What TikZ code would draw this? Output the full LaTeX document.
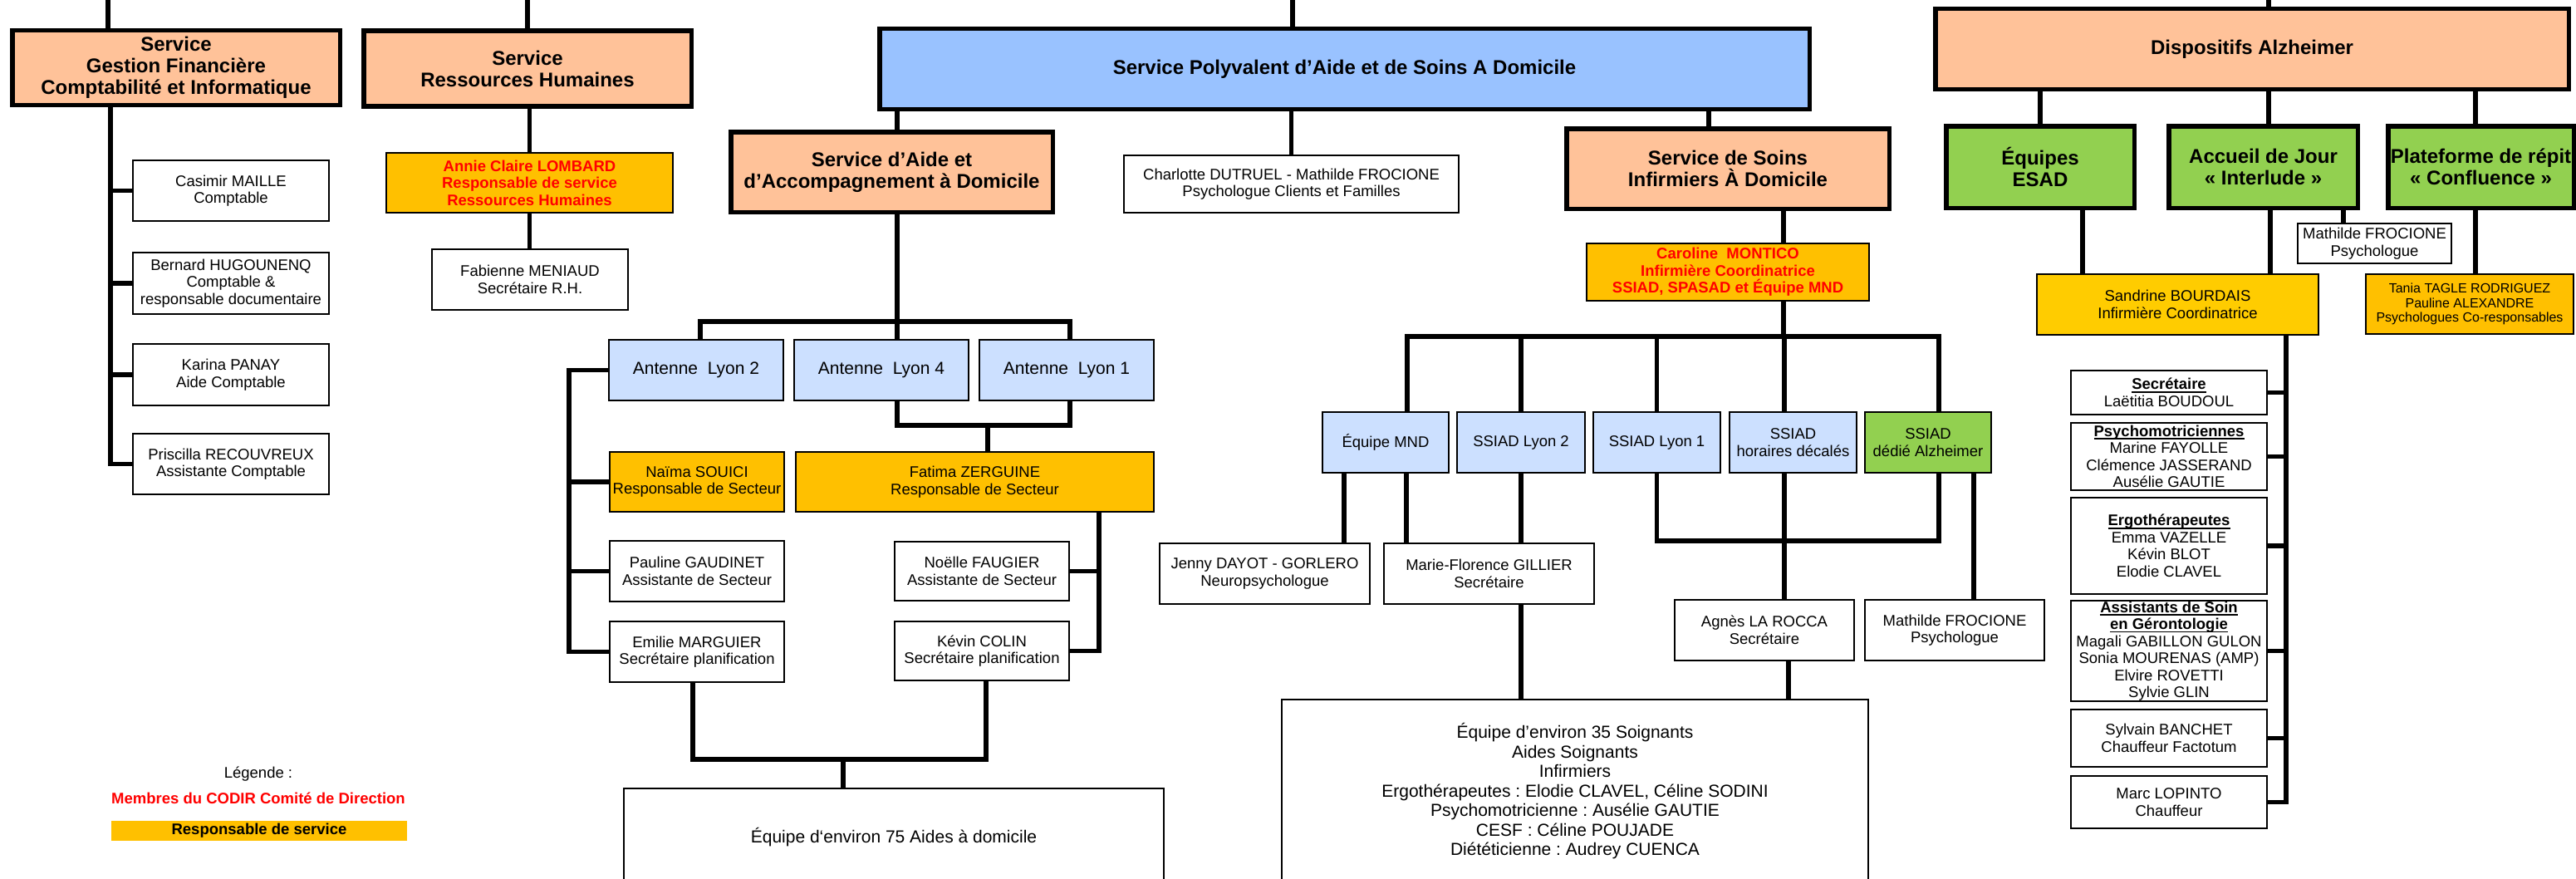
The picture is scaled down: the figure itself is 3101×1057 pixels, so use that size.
\documentclass[tikz,border=0pt]{standalone}
\usepackage{fontspec}
\setmainfont{Liberation Sans}
\usetikzlibrary{calc}
\definecolor{peach}{RGB}{255,194,153}
\definecolor{spblue}{RGB}{153,194,255}
\definecolor{lblue}{RGB}{204,224,255}
\definecolor{gold}{RGB}{255,192,0}
\definecolor{sunny}{RGB}{255,204,0}
\definecolor{lgreen}{RGB}{146,208,80}
\definecolor{codir}{RGB}{255,0,0}
\newcommand\hdul[1]{\setbox0\hbox{\textbf{#1}}\rlap{\vrule height -2pt depth 3.6pt width \wd0}\box0}
\begin{document}
\frenchspacing
\begin{tikzpicture}[x=1pt,y=-1pt,
  hbox/.style={draw, line width=5.5pt, align=center, inner sep=0pt, font=\fontsize{24}{26}\selectfont\bfseries},
  pbox/.style={draw, line width=2.2pt, align=center, inner sep=0pt, font=\fontsize{18.5}{20.5}\selectfont},
  bigtext/.style={font=\fontsize{21}{23.5}\selectfont},
  redtext/.style={text=codir, font=\fontsize{18.5}{20.5}\selectfont\bfseries},
  sz/.style 2 args={minimum width=#1pt, minimum height=#2pt},
  wire/.style={line width=5.5pt},
]
\useasboundingbox (0,0) rectangle (3101,1057);
\clip (0,0) rectangle (3101,1057);

% ---------- header boxes ----------
\node[hbox, fill=peach, sz={394.5}{89.5}] (gest) at (212,81.5) {Service\\Gestion Financière\\Comptabilité et Informatique};
\node[hbox, fill=peach, sz={394.5}{90.5}] (rh) at (635,82.5) {Service\\Ressources Humaines};
\node[hbox, fill=spblue, sz={1119.5}{96.5}] (spasad) at (1618.5,83) {Service Polyvalent d’Aide et de Soins A Domicile};
\node[hbox, fill=peach, sz={387.5}{96.5}] (saad) at (1073.5,207) {Service d’Aide et\\d’Accompagnement à Domicile};
\node[hbox, fill=peach, sz={388.5}{96.5}] (ssiad) at (2080,203) {Service de Soins\\Infirmiers À Domicile};
\node[hbox, fill=peach, sz={762.5}{96.5}] (dispo) at (2711,59) {Dispositifs Alzheimer};
\node[hbox, fill=lgreen, sz={226.5}{98.5}] (esad) at (2456,201) {Équipes\\ESAD};
\node[hbox, fill=lgreen, sz={227.5}{98.5}] (accueil) at (2724.5,201) {Accueil de Jour\\«~Interlude~»};
\node[hbox, fill=lgreen, sz={223.5}{98.5}] (plat) at (2986.5,201) {Plateforme de répit\\«~Confluence~»};

% ---------- Gestion / RH ----------
\node[pbox, sz={235.8}{72.8}] (casimir) at (278,229.5) {Casimir MAILLE\\Comptable};
\node[pbox, sz={235.8}{73.8}] (bernard) at (278,341) {Bernard HUGOUNENQ\\Comptable \&\\responsable documentaire};
\node[pbox, sz={235.8}{73.8}] (karina) at (278,451) {Karina PANAY\\Aide Comptable};
\node[pbox, sz={235.8}{72.8}] (priscilla) at (278,558.5) {Priscilla RECOUVREUX\\Assistante Comptable};
\node[pbox, fill=gold, redtext, sz={344.8}{71.8}] (annie) at (637.5,220) {Annie Claire LOMBARD\\Responsable de service\\Ressources Humaines};
\node[pbox, sz={235.8}{72.8}] (fabienne) at (638,336.5) {Fabienne MENIAUD\\Secrétaire R.H.};

% ---------- SPASAD / SAAD ----------
\node[pbox, sz={402.8}{68.8}] (charlotte) at (1554.5,221.5) {Charlotte DUTRUEL - Mathilde FROCIONE\\Psychologue Clients et Familles};
\node[pbox, fill=lblue, bigtext, sz={209.8}{72.8}] (lyon2) at (838,445.5) {Antenne\ \ Lyon 2};
\node[pbox, fill=lblue, bigtext, sz={209.8}{72.8}] (lyon4) at (1061,445.5) {Antenne\ \ Lyon 4};
\node[pbox, fill=lblue, bigtext, sz={209.8}{72.8}] (lyon1) at (1284,445.5) {Antenne\ \ Lyon 1};
\node[pbox, fill=gold, sz={209.8}{71.8}] (naima) at (839,580) {Naïma SOUICI\\Responsable de Secteur};
\node[pbox, fill=gold, sz={430.8}{71.8}] (fatima) at (1173.5,580) {Fatima ZERGUINE\\Responsable de Secteur};
\node[pbox, sz={209.8}{72.8}] (pauline) at (839,687.5) {Pauline GAUDINET\\Assistante de Secteur};
\node[pbox, sz={209.8}{72.8}] (emilie) at (839,784.5) {Emilie MARGUIER\\Secrétaire planification};
\node[pbox, sz={209.8}{70.8}] (noelle) at (1182,687.5) {Noëlle FAUGIER\\Assistante de Secteur};
\node[pbox, sz={209.8}{70.8}] (kevin) at (1182,783.5) {Kévin COLIN\\Secrétaire planification};
\node[pbox, bigtext, sz={649.8}{117.8}] (eq75) at (1076,1008) {Équipe d‘environ 75 Aides à domicile};

% ---------- SSIAD ----------
\node[pbox, fill=gold, redtext, sz={339.8}{68.8}] (caroline) at (2080,327.5) {Caroline\ \ MONTICO\\Infirmière Coordinatrice\\SSIAD, SPASAD et Équipe MND};
\node[pbox, fill=lblue, sz={151.8}{72.8}] (mnd) at (1668,532.5) {Équipe MND};
\node[pbox, fill=lblue, sz={153.8}{72.8}] (ssl2) at (1831,532.5) {SSIAD Lyon 2};
\node[pbox, fill=lblue, sz={152.8}{72.8}] (ssl1) at (1994.5,532.5) {SSIAD Lyon 1};
\node[pbox, fill=lblue, sz={152.8}{72.8}] (sshd) at (2158.5,532.5) {SSIAD\\horaires décalés};
\node[pbox, fill=lgreen, sz={151.8}{72.8}] (ssalz) at (2321,532.5) {SSIAD\\dédié Alzheimer};
\node[pbox, sz={252.8}{72.8}] (jenny) at (1522.5,690.5) {Jenny DAYOT - GORLERO\\Neuropsychologue};
\node[pbox, sz={252.8}{72.8}] (marief) at (1792.5,690.5) {Marie-Florence GILLIER\\Secrétaire};
\node[pbox, sz={215.8}{72.8}] (agnes) at (2124,758.5) {Agnès LA ROCCA\\Secrétaire};
\node[pbox, sz={215.8}{72.8}] (math2) at (2353,758.5) {Mathilde FROCIONE\\Psychologue};
\node[pbox, bigtext, sz={705.8}{220.8}] (eq35) at (1896,952.5) {Équipe d’environ 35 Soignants\\Aides Soignants\\Infirmiers\\Ergothérapeutes : Elodie CLAVEL, Céline SODINI\\Psychomotricienne : Ausélie GAUTIE\\CESF : Céline POUJADE\\Diététicienne : Audrey CUENCA};

% ---------- Alzheimer ----------
\node[pbox, sz={184.8}{47.8}] (math1) at (2858.5,293) {Mathilde FROCIONE\\Psychologue};
\node[pbox, fill=sunny, sz={338.8}{72.8}] (sandrine) at (2621.5,366.5) {Sandrine BOURDAIS\\Infirmière Coordinatrice};
\node[pbox, fill=gold, font=\fontsize{16}{17.5}\selectfont, sz={249.8}{71.8}] (tania) at (2973,366) {Tania TAGLE RODRIGUEZ\\Pauline ALEXANDRE\\Psychologues Co-responsables};
\node[pbox, sz={235.8}{52.8}] (secr) at (2611,472.5) {\hdul{Secrétaire}\\Laëtitia BOUDOUL};
\node[pbox, sz={235.8}{80.8}] (psym) at (2611,549.5) {\hdul{Psychomotriciennes}\\Marine FAYOLLE\\Clémence JASSERAND\\Ausélie GAUTIE};
\node[pbox, sz={235.8}{115.8}] (ergo) at (2611,657) {\hdul{Ergothérapeutes}\\Emma VAZELLE\\Kévin BLOT\\Elodie CLAVEL};
\node[pbox, sz={235.8}{120.8}] (assist) at (2611,783.5) {\hdul{Assistants de Soin}\\\hdul{en Gérontologie}\\Magali GABILLON GULON\\Sonia MOURENAS (AMP)\\Elvire ROVETTI\\Sylvie GLIN};
\node[pbox, sz={235.8}{68.8}] (sylvain) at (2611,888.5) {Sylvain BANCHET\\Chauffeur Factotum};
\node[pbox, sz={235.8}{62.8}] (marc) at (2611,965.5) {Marc LOPINTO\\Chauffeur};

% ---------- legend ----------
\node[font=\fontsize{18.5}{20.5}\selectfont] (leg) at (311,932) {Légende :};
\node[redtext] (legcodir) at (311,961) {Membres du CODIR Comité de Direction};
\node[fill=gold, inner sep=0pt, minimum width=356pt, minimum height=24pt, font=\fontsize{18.5}{20.5}\selectfont\bfseries] (legresp) at (312,1000) {Responsable de service};

% ---------- connectors ----------
\coordinate (tg) at (130,-10);
\coordinate (ts) at (1556,-10);
\coordinate (d2) at (2731,-10);
\draw[wire] (tg) -- (tg |- gest.north);
\draw[wire] (rh.north) -- (rh.north |- tg);
\draw[wire] (ts) -- (ts |- spasad.north);
\draw[wire] (d2) -- (d2 |- dispo.north);

% Gestion trunk
\coordinate (gx) at (133,0);
\draw[wire] (gx |- gest.south) |- (casimir.west);
\draw[wire] (gx |- gest.south) |- (bernard.west);
\draw[wire] (gx |- gest.south) |- (karina.west);
\draw[wire] (gx |- gest.south) |- (priscilla.west);

% RH
\draw[wire] (annie.north) -- (annie.north |- rh.south);
\draw[wire] (annie.south) -- (annie.south |- fabienne.north);

% SPASAD children
\coordinate (sx) at (1080,387);
\coordinate (ssx) at (2057,0);
\draw[wire] (sx |- spasad.south) -- (sx |- saad.north);
\draw[wire] (charlotte.north) -- (charlotte.north |- spasad.south);
\draw[wire] (ssx |- spasad.south) -- (ssx |- ssiad.north);

% SAAD to antennes
\coordinate (l2x) at (843,0);
\coordinate (l1x) at (1288,0);
\draw[wire] (sx |- saad.south) -- (sx |- lyon4.north);
\draw[wire] (l2x |- lyon2.north) |- (sx) -| (l1x |- lyon1.north);

% Lyon 2 group
\coordinate (lt) at (685,0);
\draw[wire] (lyon2.west) -| (lt |- emilie.west) -- (emilie.west);
\draw[wire] (lt |- naima.west) -- (naima.west);
\draw[wire] (lt |- pauline.west) -- (pauline.west);

% Lyon 4 / Lyon 1 to Fatima
\coordinate (fj) at (1189,512);
\draw[wire] (sx |- lyon4.south) |- (fj) -| (l1x |- lyon1.south);
\draw[wire] (fj) -- (fj |- fatima.north);
\coordinate (fx) at (1323,0);
\draw[wire] (fx |- fatima.south) |- (kevin.east);
\draw[wire] (fx |- noelle.east) -- (noelle.east);

% to equipe 75
\coordinate (ej) at (1015,914);
\coordinate (emx) at (834,0);
\coordinate (kvx) at (1187,0);
\draw[wire] (emx |- emilie.south) |- (ej) -| (kvx |- kevin.south);
\draw[wire] (ej) -- (ej |- eq75.north);

% SSIAD
\coordinate (cx) at (2147,405);
\draw[wire] (cx |- ssiad.south) -- (cx |- caroline.north);
\draw[wire] (cx |- caroline.south) -- (cx);
\coordinate (b1) at (1694,405);
\coordinate (b4) at (2148,405);
\coordinate (b5) at (2334,405);
\draw[wire] (b1 |- mnd.north) |- (b5) -- (b5 |- ssalz.north);
\draw[wire] (ssl2.north) -- (ssl2.north |- b1);
\draw[wire] (ssl1.north) -- (ssl1.north |- b1);
\draw[wire] (b4) -- (b4 |- sshd.north);

\coordinate (m1) at (1618,0);
\coordinate (m2) at (1693,0);
\draw[wire] (m1 |- mnd.south) -- (m1 |- jenny.north);
\draw[wire] (m2 |- mnd.south) -- (m2 |- marief.north);
\draw[wire] (ssl2.south) -- (ssl2.south |- marief.north);
\draw[wire] (ssl2.south |- marief.south) -- (ssl2.south |- eq35.north);

\coordinate (aj) at (0,651);
\draw[wire] (ssl1.south) |- (b5 |- aj) -- (b5 |- ssalz.south);
\draw[wire] (b4 |- sshd.south) -- (b4 |- agnes.north);
\coordinate (a2) at (2376,0);
\draw[wire] (a2 |- ssalz.south) -- (a2 |- math2.north);
\coordinate (a3) at (2153,0);
\draw[wire] (a3 |- agnes.south) -- (a3 |- eq35.north);

% Dispositifs Alzheimer
\coordinate (d3) at (2980,0);
\draw[wire] (esad.north) -- (esad.north |- dispo.south);
\draw[wire] (d2 |- dispo.south) -- (d2 |- accueil.north);
\draw[wire] (d3 |- dispo.south) -- (d3 |- plat.north);
\coordinate (e1) at (2507,0);
\coordinate (e2) at (2733,0);
\coordinate (e3) at (2821,0);
\draw[wire] (e1 |- esad.south) -- (e1 |- sandrine.north);
\draw[wire] (e2 |- accueil.south) -- (e2 |- sandrine.north);
\draw[wire] (e3 |- accueil.south) -- (e3 |- math1.north);
\draw[wire] (d3 |- plat.south) -- (d3 |- tania.north);

\coordinate (st) at (2752,0);
\draw[wire] (st |- sandrine.south) |- (marc.east);
\draw[wire] (st |- secr.east) -- (secr.east);
\draw[wire] (st |- psym.east) -- (psym.east);
\draw[wire] (st |- ergo.east) -- (ergo.east);
\draw[wire] (st |- assist.east) -- (assist.east);
\draw[wire] (st |- sylvain.east) -- (sylvain.east);
\end{tikzpicture}
\end{document}
